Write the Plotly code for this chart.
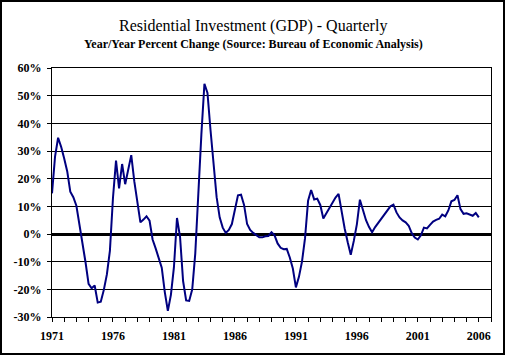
import plotly.graph_objects as go

# Quarterly data, first value = 1971 Q1
start_year = 1971
yoy_pct = [
    14.7, 28.0, 34.8, 31.5,    # 1971
    27.3, 22.6, 15.3, 13.3,    # 1972
    10.2, 3.8, -3.0, -10.2,    # 1973
    -18.0, -19.6, -18.6, -24.8,  # 1974
    -24.5, -20.2, -14.6, -6.0,   # 1975
    13.0, 26.5, 16.5, 25.3,    # 1976
    18.0, 23.0, 28.5, 19.0,    # 1977
    11.5, 4.2, 5.2, 6.4,       # 1978
    4.8, -2.0, -5.2, -8.8,     # 1979
    -12.2, -21.0, -27.8, -22.0,  # 1980
    -12.0, 5.8, -1.0, -17.0,   # 1981
    -24.0, -24.2, -20.0, -7.0,   # 1982
    16.0, 36.0, 54.3, 51.0,    # 1983
    37.5, 24.5, 13.3, 6.0,     # 1984
    2.3, 0.4, 1.5, 3.6,        # 1985
    9.4, 14.0, 14.2, 10.5,     # 1986
    3.6, 1.5, 0.4, -0.3,       # 1987
    -1.2, -1.2, -0.8, -0.7,    # 1988
    0.6, -0.5, -3.4, -5.0,     # 1989
    -5.5, -5.4, -8.5, -12.5,   # 1990
    -19.3, -15.5, -10.0, -1.5,   # 1991
    12.0, 15.9, 12.5, 12.8,    # 1992
    10.5, 5.6, 7.5, 9.8,       # 1993
    11.5, 13.2, 14.5, 7.5,     # 1994
    2.0, -3.0, -7.5, -2.5,     # 1995
    3.5, 12.4, 8.5, 5.0,       # 1996
    2.5, 0.6, 2.5, 4.0,        # 1997
    5.2, 6.8, 8.5, 10.0,       # 1998
    10.6, 7.8, 6.0, 4.9,       # 1999
    4.2, 3.0, 0.3, -1.3,       # 2000
    -2.0, -0.5, 2.3, 2.0,      # 2001
    3.3, 4.5, 5.1, 5.5,        # 2002
    7.0, 6.4, 8.5, 11.8,       # 2003
    12.3, 14.0, 9.0, 7.3,      # 2004
    7.5, 7.0, 6.6, 7.6,        # 2005
    6.0,                       # 2006
]

x_tick_years = [1971, 1976, 1981, 1986, 1991, 1996, 2001, 2006]
x_tick_text = ["1971", "1976", "1981", "1986", "1991", "1996", "2001", "2006"]
y_tick_vals = [-30, -20, -10, 0, 10, 20, 30, 40, 50, 60]
y_tick_text = ["-30%", "-20%", "-10%", "0%", "10%", "20%", "30%", "40%", "50%", "60%"]

title_text = "Residential Investment (GDP) - Quarterly"
subtitle_text = "Year/Year Percent Change (Source: Bureau of Economic Analysis)"

x_vals = [start_year + i / 4 for i in range(len(yoy_pct))]

W, H = 506, 356
L, R, T, B = 52, 15, 68, 39
pw, ph = W - L - R, H - T - B


def px(xp):
    return (xp - L) / pw


def py(yp):
    return (H - B - yp) / ph


serif = "Liberation Serif"

fig = go.Figure()
fig.add_trace(go.Scatter(
    x=x_vals, y=yoy_pct, mode="lines",
    line=dict(color="#000080", width=2),
    showlegend=False, hoverinfo="skip",
))

fig.update_layout(
    width=W, height=H,
    margin=dict(l=L, r=R, t=T, b=B, pad=0),
    paper_bgcolor="white", plot_bgcolor="white",
    font=dict(family=serif, color="black"),
    xaxis=dict(
        range=[1971, 2007], tickmode="array",
        tickvals=x_tick_years, ticktext=x_tick_text,
        ticks="outside", ticklen=4, tickwidth=1, tickcolor="black",
        ticklabelstandoff=4,
        minor=dict(tick0=1971, dtick=1, ticks="outside", ticklen=4,
                   tickwidth=1, tickcolor="black", showgrid=False),
        showgrid=False, zeroline=False,
        showline=True, linecolor="black", linewidth=1, mirror=True,
        tickfont=dict(family=serif, size=12, color="black", weight="bold"),
    ),
    yaxis=dict(
        range=[-30, 60], tickmode="array",
        tickvals=y_tick_vals, ticktext=y_tick_text,
        ticks="outside", ticklen=4, tickwidth=1, tickcolor="black",
        ticklabelstandoff=3,
        showgrid=True, gridcolor="black", gridwidth=1,
        zeroline=True, zerolinecolor="black", zerolinewidth=3,
        showline=True, linecolor="black", linewidth=1, mirror=True,
        tickfont=dict(family=serif, size=12, color="black", weight="bold"),
    ),
    annotations=[
        dict(text=title_text, xref="paper", yref="paper",
             x=px(253), y=py(26), xanchor="center", yanchor="middle",
             showarrow=False, font=dict(family=serif, size=16, color="black")),
        dict(text="<b>" + subtitle_text + "</b>", xref="paper", yref="paper",
             x=px(253), y=py(44), xanchor="center", yanchor="middle",
             showarrow=False, font=dict(family=serif, size=12, color="black")),
    ],
    shapes=[
        dict(type="rect", xref="paper", yref="paper",
             x0=px(1), x1=px(504), y0=py(354), y1=py(1),
             line=dict(color="black", width=2), fillcolor="rgba(0,0,0,0)"),
    ],
)

fig.write_html(
    "out.html",
    config={"displayModeBar": False},
    post_script="document.body.style.margin='0';document.body.style.overflow='hidden';",
)
